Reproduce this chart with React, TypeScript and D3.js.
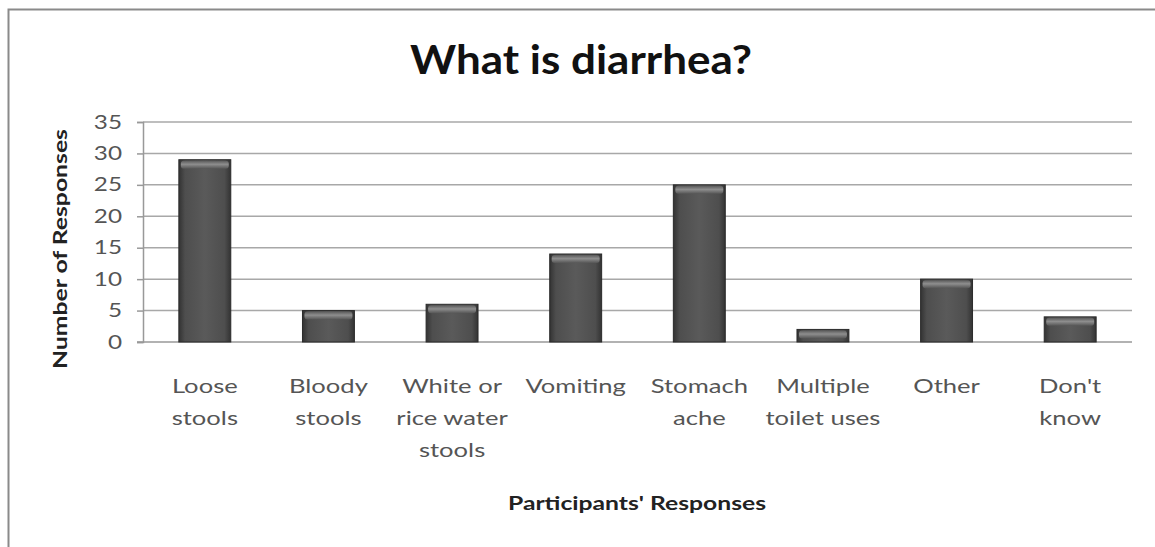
import React, { useEffect, useRef } from "react";
import * as d3 from "d3";

const categories = [
  ["Loose", "stools"],
  ["Bloody", "stools"],
  ["White or", "rice water", "stools"],
  ["Vomiting"],
  ["Stomach", "ache"],
  ["Multiple", "toilet uses"],
  ["Other"],
  ["Don't", "know"],
];
const responses = [29, 5, 6, 14, 25, 2, 10, 4];
const yTicks = [0, 5, 10, 15, 20, 25, 30, 35];

const W = 1155;
const H = 547;
const FONT = "Lato, 'Open Sans', sans-serif";

const App = () => {
  const ref = useRef<SVGSVGElement>(null);

  useEffect(() => {
    if (!ref.current) return;
    const svg = d3.select(ref.current);
    svg.selectAll("*").remove();

    const left = 143;
    const right = 1132;
    const top = 122;
    const bottom = 342;

    const x = d3
      .scaleBand()
      .domain(categories.map((_, i) => String(i)))
      .range([left, right])
      .paddingInner(0.58)
      .paddingOuter(0.29);
    const y = d3.scaleLinear().domain([0, 35]).range([bottom, top]);

    // gradients for the bevelled bars
    const defs = svg.append("defs");
    const g1 = defs
      .append("linearGradient")
      .attr("id", "barFill")
      .attr("x1", 0)
      .attr("x2", 1)
      .attr("y1", 0)
      .attr("y2", 0);
    g1.append("stop").attr("offset", "0%").attr("stop-color", "#333");
    g1.append("stop").attr("offset", "12%").attr("stop-color", "#4e4e4e");
    g1.append("stop").attr("offset", "50%").attr("stop-color", "#5a5a5a");
    g1.append("stop").attr("offset", "88%").attr("stop-color", "#4e4e4e");
    g1.append("stop").attr("offset", "100%").attr("stop-color", "#333");
    const g2 = defs
      .append("linearGradient")
      .attr("id", "barTop")
      .attr("x1", 0)
      .attr("x2", 0)
      .attr("y1", 0)
      .attr("y2", 1);
    g2.append("stop").attr("offset", "0%").attr("stop-color", "#5a5a5a");
    g2.append("stop").attr("offset", "45%").attr("stop-color", "#8e8e8e");
    g2.append("stop").attr("offset", "100%").attr("stop-color", "#555");

    // background + frame
    svg.append("rect").attr("width", W).attr("height", H).attr("fill", "#fff");
    svg
      .append("rect")
      .attr("x", 8.5)
      .attr("y", 9.5)
      .attr("width", 1160)
      .attr("height", 560)
      .attr("fill", "none")
      .attr("stroke", "#8a8a8a")
      .attr("stroke-width", 2);

    // Title
    svg
      .append("text")
      .attr("x", 581)
      .attr("y", 74)
      .attr("text-anchor", "middle")
      .attr("font-family", FONT)
      .attr("font-weight", "bold")
      .attr("font-size", 40)
      .attr("textLength", 342)
      .attr("lengthAdjust", "spacingAndGlyphs")
      .attr("fill", "#111")
      .text("What is diarrhea?");

    // Grid
    svg
      .append("g")
      .selectAll("line")
      .data(yTicks.slice(1))
      .enter()
      .append("line")
      .attr("x1", left)
      .attr("x2", right)
      .attr("y1", (d) => y(d))
      .attr("y2", (d) => y(d))
      .attr("stroke", "#a8a8a8")
      .attr("stroke-width", 1.5);

    // Y axis
    svg
      .append("g")
      .attr("transform", `translate(${left},0)`)
      .call(d3.axisLeft(y).tickValues(yTicks).tickSize(6).tickPadding(0))
      .call((g) => g.select(".domain").attr("stroke", "#999").attr("stroke-width", 1.5))
      .call((g) => g.selectAll(".tick line").attr("stroke", "#999").attr("stroke-width", 1.5))
      .call((g) =>
        g
          .selectAll("text")
          .attr("x", 0)
          .attr("transform", "translate(-21,0) scale(1.28,1)")
          .attr("fill", "#555")
          .attr("font-family", FONT)
          .attr("font-size", 19)
      );

    // X axis baseline
    svg
      .append("line")
      .attr("x1", left - 6)
      .attr("x2", right)
      .attr("y1", bottom)
      .attr("y2", bottom)
      .attr("stroke", "#999")
      .attr("stroke-width", 1.5);

    // Bars
    const bars = svg
      .append("g")
      .selectAll("g")
      .data(responses)
      .enter()
      .append("g");
    bars
      .append("rect")
      .attr("x", (_, i) => x(String(i)) as number)
      .attr("y", (d) => y(d))
      .attr("width", x.bandwidth())
      .attr("height", (d) => y(0) - y(d))
      .attr("fill", "url(#barFill)")
      .attr("stroke", "#2a2a2a")
      .attr("stroke-width", 1);
    bars
      .append("rect")
      .attr("x", (_, i) => (x(String(i)) as number) + 2)
      .attr("y", (d) => y(d) + 1)
      .attr("width", x.bandwidth() - 4)
      .attr("height", 8)
      .attr("rx", 3)
      .attr("fill", "url(#barTop)");

    // X labels
    const labels = svg
      .append("g")
      .selectAll("text")
      .data(categories)
      .enter()
      .append("text")
      .attr(
        "transform",
        (_, i) =>
          `translate(${(x(String(i)) as number) + x.bandwidth() / 2},393) scale(1.28,1)`
      )
      .attr("text-anchor", "middle")
      .attr("font-family", FONT)
      .attr("font-size", 20)
      .attr("fill", "#555");
    labels
      .selectAll("tspan")
      .data((d) => d)
      .enter()
      .append("tspan")
      .attr("x", 0)
      .attr("dy", (_, j) => (j === 0 ? 0 : 32))
      .text((d) => d);

    // Axis titles
    svg
      .append("text")
      .attr("transform", `translate(67,249) rotate(-90)`)
      .attr("text-anchor", "middle")
      .attr("font-family", FONT)
      .attr("font-weight", "bold")
      .attr("font-size", 19)
      .attr("textLength", 240)
      .attr("lengthAdjust", "spacingAndGlyphs")
      .attr("fill", "#222")
      .text("Number of Responses");
    svg
      .append("text")
      .attr("x", 637)
      .attr("y", 510)
      .attr("text-anchor", "middle")
      .attr("font-family", FONT)
      .attr("font-weight", "bold")
      .attr("font-size", 19)
      .attr("textLength", 258)
      .attr("lengthAdjust", "spacingAndGlyphs")
      .attr("fill", "#222")
      .text("Participants' Responses");
  }, []);

  return (
    <div style={{ position: "fixed", left: 0, top: 0, width: W, height: H }}>
      <svg ref={ref} width={W} height={H} />
    </div>
  );
};

export default App;
